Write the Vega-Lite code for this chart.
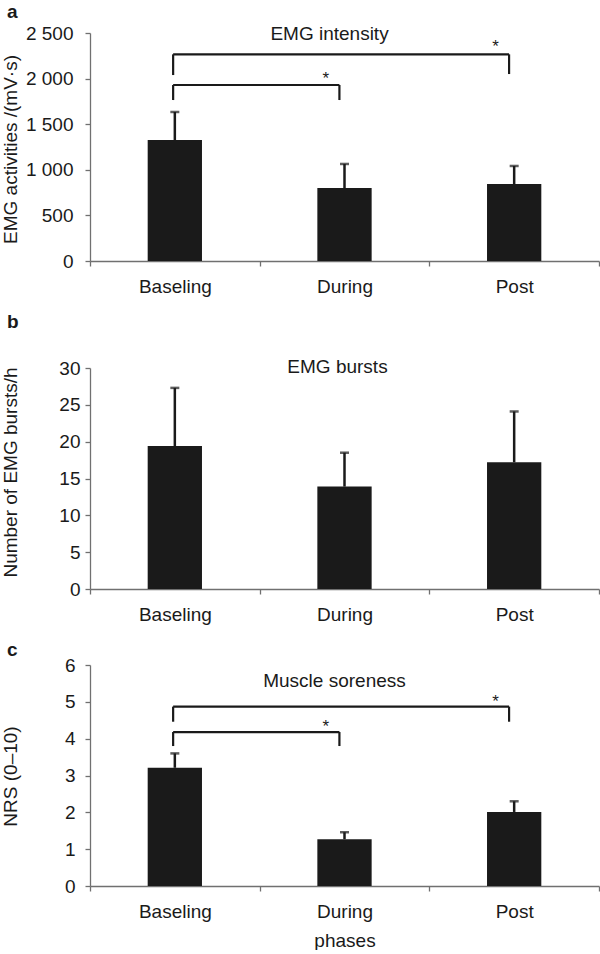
{
  "$schema": "https://vega.github.io/schema/vega-lite/v6.json",
  "padding": {"left": 0, "top": 3, "right": 0, "bottom": 0},
  "background": "white",
  "config": {
    "font": "Liberation Sans",
    "view": {"stroke": null},
    "axis": {"labelFont": "Liberation Sans", "titleFont": "Liberation Sans", "labelFontSize": 19, "titleFontSize": 19, "titleFontWeight": "normal", "labelColor": "#1a1a1a", "titleColor": "#1a1a1a", "domainColor": "#707070", "tickColor": "#707070", "domainWidth": 1.3, "tickWidth": 1.3, "tickSize": 5, "grid": false, "labelOverlap": false},
    "title": {"font": "Liberation Sans", "fontSize": 19, "fontWeight": "bold", "color": "#1a1a1a", "anchor": "start", "frame": "bounds"},
    "concat": {"spacing": 17}
  },
  "datasets": {
    "barsA": [
      {"phase": "Baseling", "mean": 1327, "upper": 1634},
      {"phase": "During", "mean": 800, "upper": 1064},
      {"phase": "Post", "mean": 844, "upper": 1042}
    ],
    "bracketsA": [
      {"from": "Baseling", "to": "Post", "level": 2266, "lowFrom": 2039, "lowTo": 2050, "star": 2295},
      {"from": "Baseling", "to": "During", "level": 1930, "lowFrom": 1765, "lowTo": 1765, "star": 1944}
    ],
    "labelA": [{"phase": "During", "value": 2423, "label": "EMG intensity"}],
    "barsB": [
      {"phase": "Baseling", "mean": 19.4, "upper": 27.3},
      {"phase": "During", "mean": 13.9, "upper": 18.5},
      {"phase": "Post", "mean": 17.2, "upper": 24.1}
    ],
    "labelB": [{"phase": "During", "value": 29.3, "label": "EMG bursts"}],
    "barsC": [
      {"phase": "Baseling", "mean": 3.21, "upper": 3.6},
      {"phase": "During", "mean": 1.27, "upper": 1.46},
      {"phase": "Post", "mean": 2.01, "upper": 2.3}
    ],
    "bracketsC": [
      {"from": "Baseling", "to": "Post", "level": 4.87, "lowFrom": 4.46, "lowTo": 4.46, "star": 4.85},
      {"from": "Baseling", "to": "During", "level": 4.18, "lowFrom": 3.8, "lowTo": 3.8, "star": 4.17}
    ],
    "labelC": [{"phase": "During", "value": 5.39, "label": "Muscle soreness"}]
  },
  "vconcat": [
    {
      "width": 509, "height": 228,
      "title": {"text": "a", "offset": 2, "dx": 6},
      "layer": [
        {"data": {"name": "barsA"}, "mark": {"type": "bar", "color": "#1a1a1a", "width": {"band": 0.32}},
         "encoding": {
           "x": {"field": "phase", "type": "nominal", "title": null, "scale": {"domain": ["Baseling", "During", "Post"], "paddingInner": 0, "paddingOuter": 0}, "axis": {"labelAngle": 0, "tickBand": "extent", "labelPadding": 11}},
           "y": {"field": "mean", "type": "quantitative", "title": "EMG activities /(mV·s)", "scale": {"domain": [0, 2500], "nice": false}, "axis": {"values": [0, 500, 1000, 1500, 2000, 2500], "labelOverlap": false, "labelExpr": "replace(format(datum.value, ','), ',', ' ')", "labelPadding": 12, "titleX": -70, "titleY": 116}}
         }},
        {"data": {"name": "barsA"}, "mark": {"type": "rule", "strokeWidth": 2.5, "color": "#1a1a1a"},
         "encoding": {"x": {"field": "phase", "type": "nominal", "title": null}, "y": {"field": "mean", "type": "quantitative", "title": "EMG activities /(mV·s)"}, "y2": {"field": "upper"}}},
        {"data": {"name": "barsA"}, "mark": {"type": "tick", "size": 9, "thickness": 2.5, "color": "#1a1a1a"},
         "encoding": {"x": {"field": "phase", "type": "nominal", "title": null}, "y": {"field": "upper", "type": "quantitative", "title": "EMG activities /(mV·s)"}}},
        {"data": {"name": "bracketsA"}, "mark": {"type": "rule", "strokeWidth": 2.2, "color": "#1a1a1a"},
         "encoding": {"x": {"field": "from", "type": "nominal", "title": null, "bandPosition": 0.49}, "x2": {"field": "to", "bandPosition": 0.47}, "y": {"field": "level", "type": "quantitative", "title": "EMG activities /(mV·s)"}}},
        {"data": {"name": "bracketsA"}, "mark": {"type": "rule", "strokeWidth": 2.2, "color": "#1a1a1a"},
         "encoding": {"x": {"field": "from", "type": "nominal", "title": null, "bandPosition": 0.49}, "y": {"field": "level", "type": "quantitative", "title": "EMG activities /(mV·s)"}, "y2": {"field": "lowFrom"}}},
        {"data": {"name": "bracketsA"}, "mark": {"type": "rule", "strokeWidth": 2.2, "color": "#1a1a1a"},
         "encoding": {"x": {"field": "to", "type": "nominal", "title": null, "bandPosition": 0.47}, "y": {"field": "level", "type": "quantitative", "title": "EMG activities /(mV·s)"}, "y2": {"field": "lowTo"}}},
        {"data": {"name": "bracketsA"}, "mark": {"type": "text", "text": "*", "fontSize": 17, "color": "#1a1a1a", "baseline": "alphabetic"},
         "encoding": {"x": {"field": "to", "type": "nominal", "title": null, "bandPosition": 0.39}, "y": {"field": "star", "type": "quantitative", "title": "EMG activities /(mV·s)"}}},
        {"data": {"name": "labelA"}, "mark": {"type": "text", "fontSize": 19, "color": "#1a1a1a", "baseline": "alphabetic", "dx": -15},
         "encoding": {"x": {"field": "phase", "type": "nominal", "title": null}, "y": {"field": "value", "type": "quantitative", "title": "EMG activities /(mV·s)"}, "text": {"field": "label"}}}
      ]
    },
    {
      "width": 509, "height": 221,
      "title": {"text": "b", "offset": 26, "dx": 6},
      "layer": [
        {"data": {"name": "barsB"}, "mark": {"type": "bar", "color": "#1a1a1a", "width": {"band": 0.32}},
         "encoding": {
           "x": {"field": "phase", "type": "nominal", "title": null, "scale": {"domain": ["Baseling", "During", "Post"], "paddingInner": 0, "paddingOuter": 0}, "axis": {"labelAngle": 0, "tickBand": "extent", "labelPadding": 11}},
           "y": {"field": "mean", "type": "quantitative", "title": "Number of EMG bursts/h", "scale": {"domain": [0, 30], "nice": false}, "axis": {"values": [0, 5, 10, 15, 20, 25, 30], "tickCount": 7, "labelOverlap": false, "labelPadding": 5, "titleX": -70, "titleY": 104}}
         }},
        {"data": {"name": "barsB"}, "mark": {"type": "rule", "strokeWidth": 2.5, "color": "#1a1a1a"},
         "encoding": {"x": {"field": "phase", "type": "nominal", "title": null}, "y": {"field": "mean", "type": "quantitative", "title": "Number of EMG bursts/h"}, "y2": {"field": "upper"}}},
        {"data": {"name": "barsB"}, "mark": {"type": "tick", "size": 9, "thickness": 2.5, "color": "#1a1a1a"},
         "encoding": {"x": {"field": "phase", "type": "nominal", "title": null}, "y": {"field": "upper", "type": "quantitative", "title": "Number of EMG bursts/h"}}},
        {"data": {"name": "labelB"}, "mark": {"type": "text", "fontSize": 19, "color": "#1a1a1a", "baseline": "alphabetic", "dx": -7},
         "encoding": {"x": {"field": "phase", "type": "nominal", "title": null}, "y": {"field": "value", "type": "quantitative", "title": "Number of EMG bursts/h"}, "text": {"field": "label"}}}
      ]
    },
    {
      "width": 509, "height": 221,
      "title": {"text": "c", "offset": -4, "dx": 6},
      "layer": [
        {"data": {"name": "barsC"}, "mark": {"type": "bar", "color": "#1a1a1a", "width": {"band": 0.32}},
         "encoding": {
           "x": {"field": "phase", "type": "nominal", "title": "phases", "scale": {"domain": ["Baseling", "During", "Post"], "paddingInner": 0, "paddingOuter": 0}, "axis": {"labelAngle": 0, "tickBand": "extent", "labelPadding": 11, "titlePadding": 10}},
           "y": {"field": "mean", "type": "quantitative", "title": "NRS (0–10)", "scale": {"domain": [0, 6], "nice": false}, "axis": {"values": [0, 1, 2, 3, 4, 5, 6], "tickCount": 7, "labelOverlap": false, "labelPadding": 10, "titleX": -70, "titleY": 111}}
         }},
        {"data": {"name": "barsC"}, "mark": {"type": "rule", "strokeWidth": 2.5, "color": "#1a1a1a"},
         "encoding": {"x": {"field": "phase", "type": "nominal", "title": "phases"}, "y": {"field": "mean", "type": "quantitative", "title": "NRS (0–10)"}, "y2": {"field": "upper"}}},
        {"data": {"name": "barsC"}, "mark": {"type": "tick", "size": 9, "thickness": 2.5, "color": "#1a1a1a"},
         "encoding": {"x": {"field": "phase", "type": "nominal", "title": "phases"}, "y": {"field": "upper", "type": "quantitative", "title": "NRS (0–10)"}}},
        {"data": {"name": "bracketsC"}, "mark": {"type": "rule", "strokeWidth": 2.2, "color": "#1a1a1a"},
         "encoding": {"x": {"field": "from", "type": "nominal", "title": "phases", "bandPosition": 0.49}, "x2": {"field": "to", "bandPosition": 0.47}, "y": {"field": "level", "type": "quantitative", "title": "NRS (0–10)"}}},
        {"data": {"name": "bracketsC"}, "mark": {"type": "rule", "strokeWidth": 2.2, "color": "#1a1a1a"},
         "encoding": {"x": {"field": "from", "type": "nominal", "title": "phases", "bandPosition": 0.49}, "y": {"field": "level", "type": "quantitative", "title": "NRS (0–10)"}, "y2": {"field": "lowFrom"}}},
        {"data": {"name": "bracketsC"}, "mark": {"type": "rule", "strokeWidth": 2.2, "color": "#1a1a1a"},
         "encoding": {"x": {"field": "to", "type": "nominal", "title": "phases", "bandPosition": 0.47}, "y": {"field": "level", "type": "quantitative", "title": "NRS (0–10)"}, "y2": {"field": "lowTo"}}},
        {"data": {"name": "bracketsC"}, "mark": {"type": "text", "text": "*", "fontSize": 17, "color": "#1a1a1a", "baseline": "alphabetic"},
         "encoding": {"x": {"field": "to", "type": "nominal", "title": "phases", "bandPosition": 0.39}, "y": {"field": "star", "type": "quantitative", "title": "NRS (0–10)"}}},
        {"data": {"name": "labelC"}, "mark": {"type": "text", "fontSize": 19, "color": "#1a1a1a", "baseline": "alphabetic", "dx": -10},
         "encoding": {"x": {"field": "phase", "type": "nominal", "title": "phases"}, "y": {"field": "value", "type": "quantitative", "title": "NRS (0–10)"}, "text": {"field": "label"}}}
      ]
    }
  ]
}
